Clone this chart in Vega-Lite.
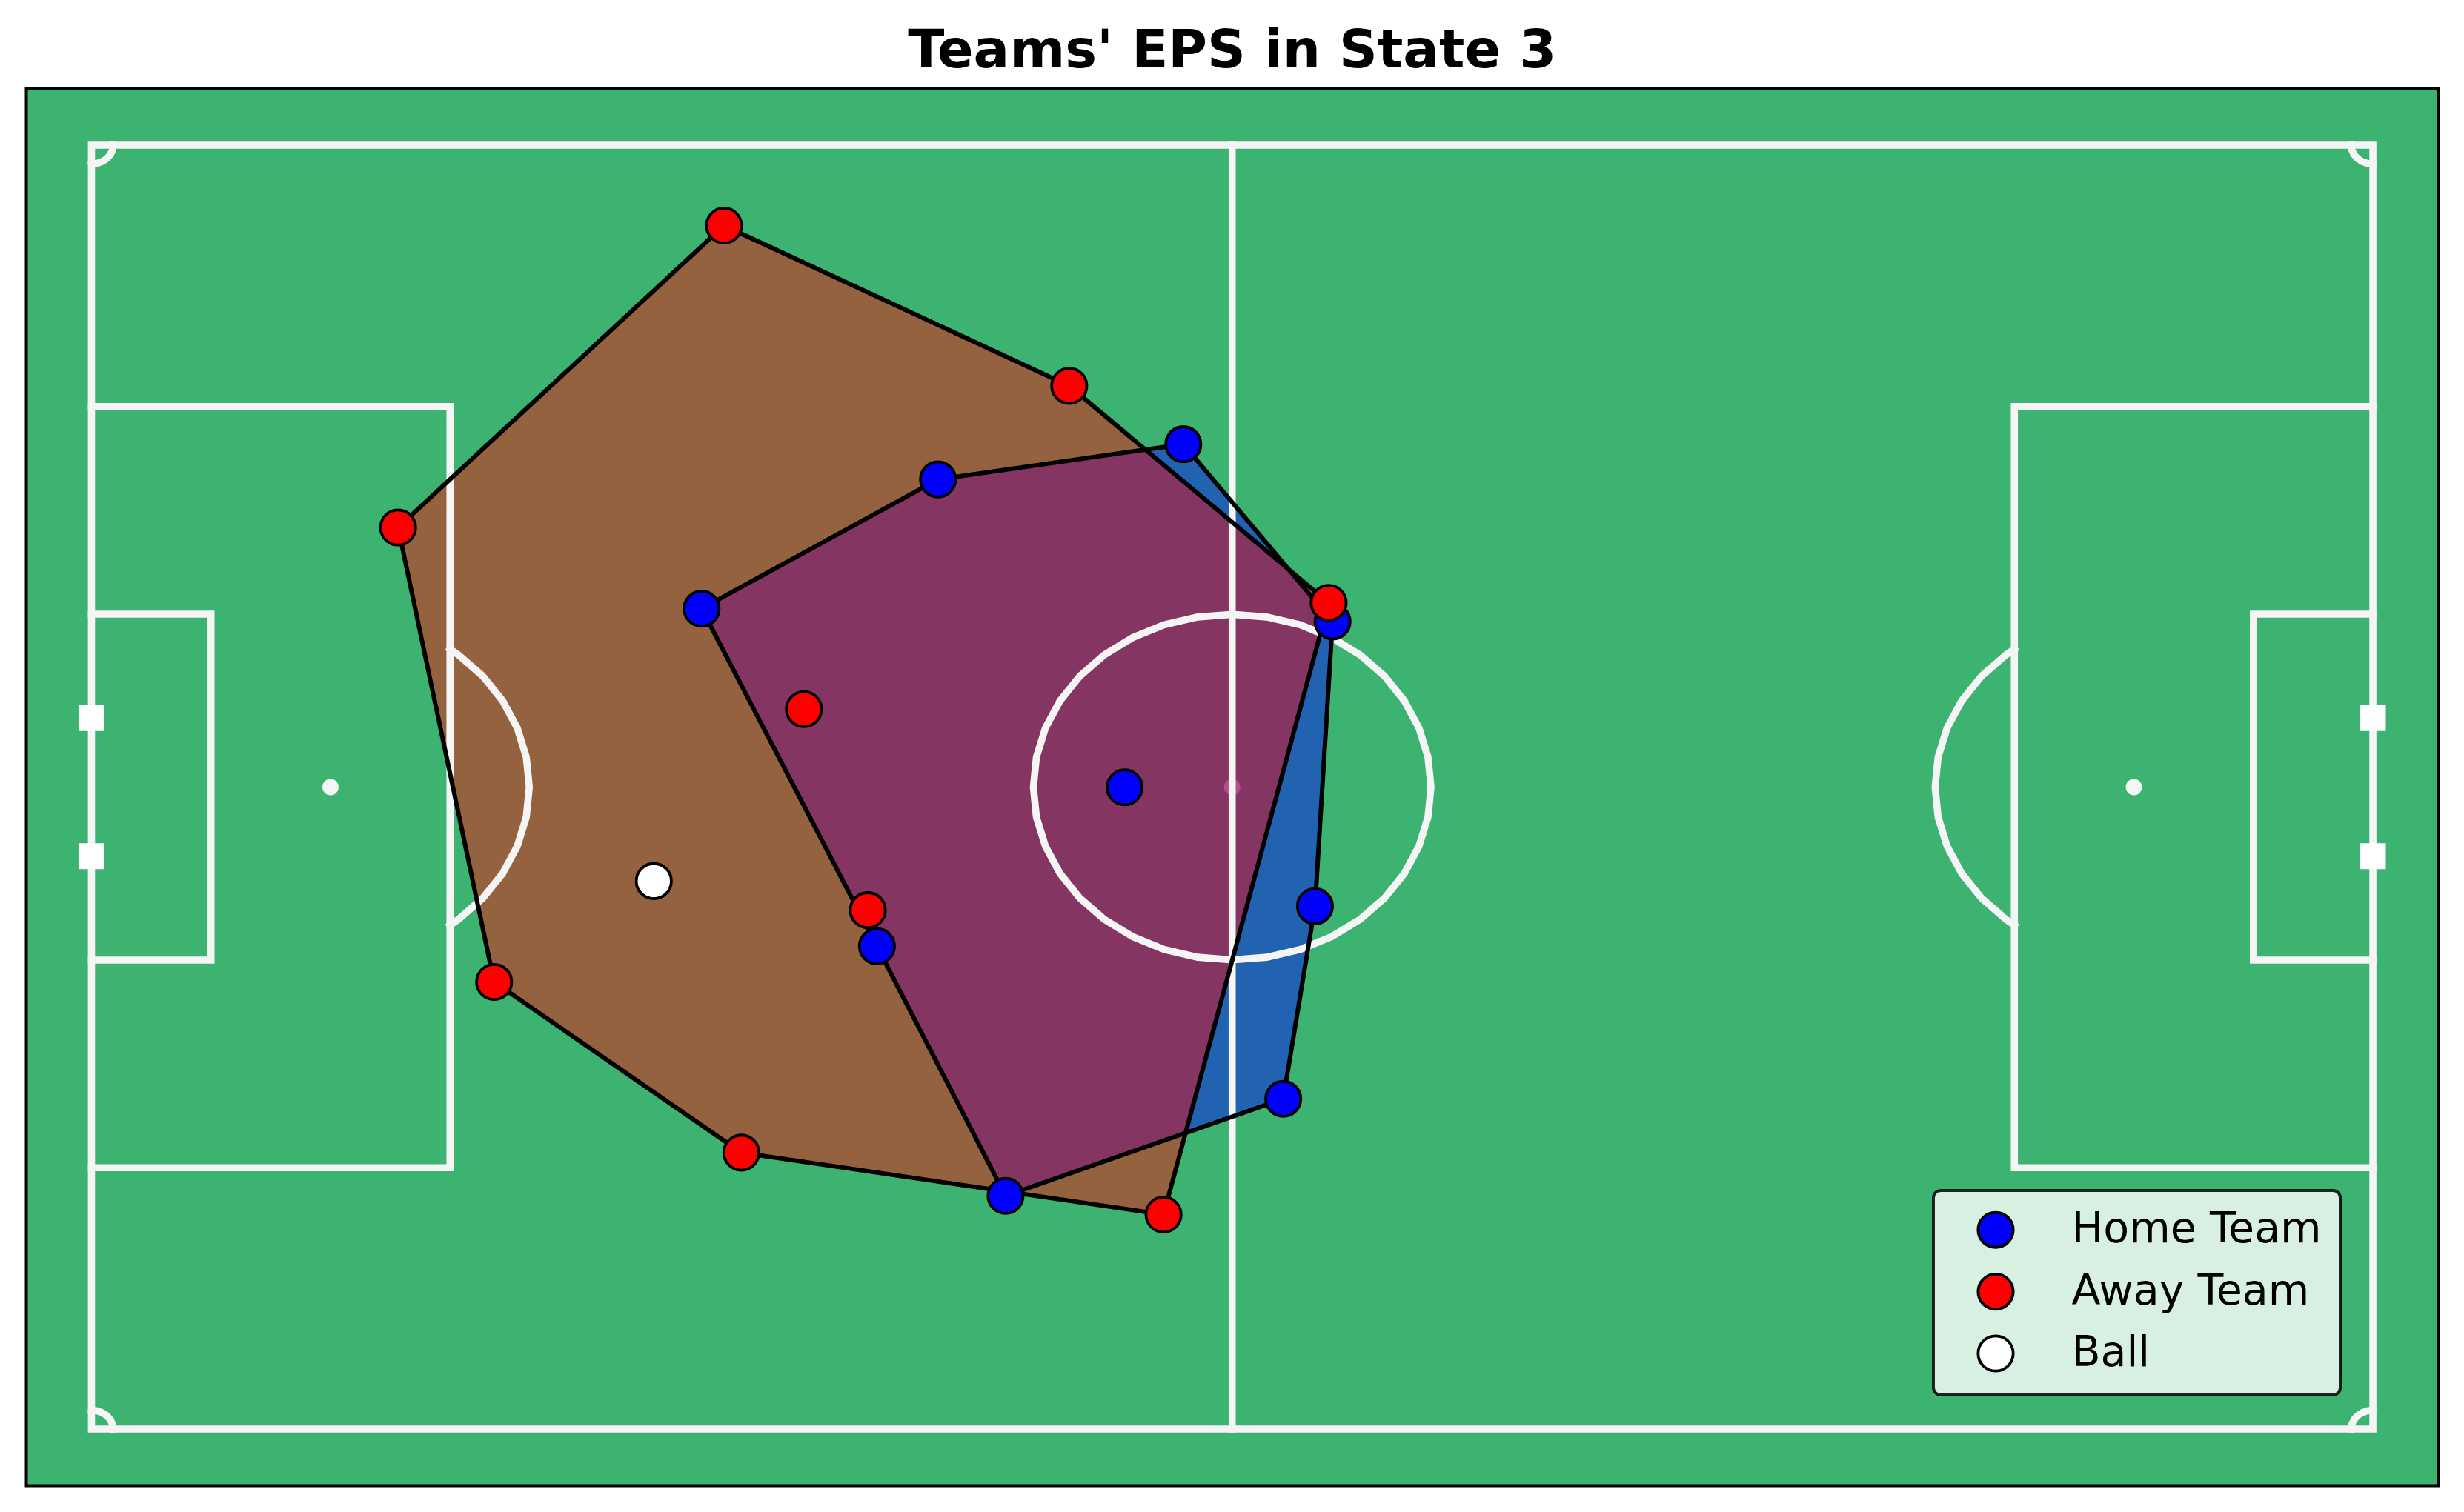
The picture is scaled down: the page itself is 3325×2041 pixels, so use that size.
{
  "$schema": "https://vega.github.io/schema/vega-lite/v6.json",
  "width": 3254.5,
  "height": 1886,
  "autosize": {"type": "none"},
  "padding": {"left": 35.5, "top": 119.5, "right": 35, "bottom": 35.5},
  "background": "white",
  "title": {
    "text": "Teams' EPS in State 3",
    "font": "DejaVu Sans",
    "fontSize": 72,
    "fontWeight": "bold",
    "color": "black",
    "anchor": "middle",
    "baseline": "alphabetic",
    "offset": 27.5,
    "dy": 71
  },
  "config": {"view": {"fill": "#3CB371", "stroke": "black", "strokeWidth": 4}},
  "datasets": {
    "players": [
      {"team": "Home Team", "x": 28.08, "y": 24.55},
      {"team": "Home Team", "x": 38.96, "y": 17.70},
      {"team": "Home Team", "x": 50.25, "y": 15.84},
      {"team": "Home Team", "x": 57.12, "y": 25.23},
      {"team": "Home Team", "x": 47.55, "y": 34.01},
      {"team": "Home Team", "x": 56.31, "y": 40.31},
      {"team": "Home Team", "x": 36.15, "y": 42.43},
      {"team": "Home Team", "x": 54.85, "y": 50.51},
      {"team": "Home Team", "x": 42.07, "y": 55.65},
      {"team": "Away Team", "x": 29.11, "y": 4.26},
      {"team": "Away Team", "x": 45.0, "y": 12.75},
      {"team": "Away Team", "x": 14.11, "y": 20.25},
      {"team": "Away Team", "x": 56.94, "y": 24.24},
      {"team": "Away Team", "x": 32.79, "y": 29.87},
      {"team": "Away Team", "x": 35.73, "y": 40.52},
      {"team": "Away Team", "x": 18.53, "y": 44.32},
      {"team": "Away Team", "x": 29.91, "y": 53.36},
      {"team": "Away Team", "x": 49.34, "y": 56.64},
      {"team": "Ball", "x": 25.88, "y": 38.98}
    ],
    "hulls": [
      {"team": "Home Team", "o": 0, "x": 50.25, "y": 15.84},
      {"team": "Home Team", "o": 1, "x": 57.12, "y": 25.23},
      {"team": "Home Team", "o": 2, "x": 56.31, "y": 40.31},
      {"team": "Home Team", "o": 3, "x": 54.85, "y": 50.51},
      {"team": "Home Team", "o": 4, "x": 42.07, "y": 55.65},
      {"team": "Home Team", "o": 5, "x": 36.15, "y": 42.43},
      {"team": "Home Team", "o": 6, "x": 28.08, "y": 24.55},
      {"team": "Home Team", "o": 7, "x": 38.96, "y": 17.70},
      {"team": "Home Team", "o": 8, "x": 50.25, "y": 15.84},
      {"team": "Away Team", "o": 0, "x": 29.11, "y": 4.26},
      {"team": "Away Team", "o": 1, "x": 45.0, "y": 12.75},
      {"team": "Away Team", "o": 2, "x": 56.94, "y": 24.24},
      {"team": "Away Team", "o": 3, "x": 49.34, "y": 56.64},
      {"team": "Away Team", "o": 4, "x": 29.91, "y": 53.36},
      {"team": "Away Team", "o": 5, "x": 18.53, "y": 44.32},
      {"team": "Away Team", "o": 6, "x": 14.11, "y": 20.25},
      {"team": "Away Team", "o": 7, "x": 29.11, "y": 4.26}
    ],
    "spots": [
      {"x": 11, "y": 34},
      {"x": 52.5, "y": 34},
      {"x": 94, "y": 34}
    ],
    "goals": [
      {"x": 0, "y": 30.34},
      {"x": 0, "y": 37.66},
      {"x": 105, "y": 30.34},
      {"x": 105, "y": 37.66}
    ],
    "lines": [
      {"id": "outline", "o": 0, "x": 0, "y": 0},
      {"id": "outline", "o": 1, "x": 105, "y": 0},
      {"id": "outline", "o": 2, "x": 105, "y": 68},
      {"id": "outline", "o": 3, "x": 0, "y": 68},
      {"id": "outline", "o": 4, "x": 0, "y": 0},
      {"id": "half", "o": 0, "x": 52.5, "y": 0},
      {"id": "half", "o": 1, "x": 52.5, "y": 68},
      {"id": "lbox", "o": 0, "x": 0, "y": 13.84},
      {"id": "lbox", "o": 1, "x": 16.5, "y": 13.84},
      {"id": "lbox", "o": 2, "x": 16.5, "y": 54.16},
      {"id": "lbox", "o": 3, "x": 0, "y": 54.16},
      {"id": "rbox", "o": 0, "x": 105, "y": 13.84},
      {"id": "rbox", "o": 1, "x": 88.5, "y": 13.84},
      {"id": "rbox", "o": 2, "x": 88.5, "y": 54.16},
      {"id": "rbox", "o": 3, "x": 105, "y": 54.16},
      {"id": "lsix", "o": 0, "x": 0, "y": 24.84},
      {"id": "lsix", "o": 1, "x": 5.5, "y": 24.84},
      {"id": "lsix", "o": 2, "x": 5.5, "y": 43.16},
      {"id": "lsix", "o": 3, "x": 0, "y": 43.16},
      {"id": "rsix", "o": 0, "x": 105, "y": 24.84},
      {"id": "rsix", "o": 1, "x": 99.5, "y": 24.84},
      {"id": "rsix", "o": 2, "x": 99.5, "y": 43.16},
      {"id": "rsix", "o": 3, "x": 105, "y": 43.16},
      {"id": "circle", "o": 0, "x": 52.5, "y": 24.85},
      {"id": "circle", "o": 1, "x": 54.089, "y": 24.989},
      {"id": "circle", "o": 2, "x": 55.629, "y": 25.402},
      {"id": "circle", "o": 3, "x": 57.075, "y": 26.076},
      {"id": "circle", "o": 4, "x": 58.382, "y": 26.991},
      {"id": "circle", "o": 5, "x": 59.509, "y": 28.118},
      {"id": "circle", "o": 6, "x": 60.424, "y": 29.425},
      {"id": "circle", "o": 7, "x": 61.098, "y": 30.871},
      {"id": "circle", "o": 8, "x": 61.511, "y": 32.411},
      {"id": "circle", "o": 9, "x": 61.65, "y": 34},
      {"id": "circle", "o": 10, "x": 61.511, "y": 35.589},
      {"id": "circle", "o": 11, "x": 61.098, "y": 37.129},
      {"id": "circle", "o": 12, "x": 60.424, "y": 38.575},
      {"id": "circle", "o": 13, "x": 59.509, "y": 39.882},
      {"id": "circle", "o": 14, "x": 58.382, "y": 41.009},
      {"id": "circle", "o": 15, "x": 57.075, "y": 41.924},
      {"id": "circle", "o": 16, "x": 55.629, "y": 42.598},
      {"id": "circle", "o": 17, "x": 54.089, "y": 43.011},
      {"id": "circle", "o": 18, "x": 52.5, "y": 43.15},
      {"id": "circle", "o": 19, "x": 50.911, "y": 43.011},
      {"id": "circle", "o": 20, "x": 49.371, "y": 42.598},
      {"id": "circle", "o": 21, "x": 47.925, "y": 41.924},
      {"id": "circle", "o": 22, "x": 46.618, "y": 41.009},
      {"id": "circle", "o": 23, "x": 45.491, "y": 39.882},
      {"id": "circle", "o": 24, "x": 44.576, "y": 38.575},
      {"id": "circle", "o": 25, "x": 43.902, "y": 37.129},
      {"id": "circle", "o": 26, "x": 43.489, "y": 35.589},
      {"id": "circle", "o": 27, "x": 43.35, "y": 34},
      {"id": "circle", "o": 28, "x": 43.489, "y": 32.411},
      {"id": "circle", "o": 29, "x": 43.902, "y": 30.871},
      {"id": "circle", "o": 30, "x": 44.576, "y": 29.425},
      {"id": "circle", "o": 31, "x": 45.491, "y": 28.118},
      {"id": "circle", "o": 32, "x": 46.618, "y": 26.991},
      {"id": "circle", "o": 33, "x": 47.925, "y": 26.076},
      {"id": "circle", "o": 34, "x": 49.371, "y": 25.402},
      {"id": "circle", "o": 35, "x": 50.911, "y": 24.989},
      {"id": "circle", "o": 36, "x": 52.5, "y": 24.85},
      {"id": "larc", "o": 0, "x": 16.5, "y": 26.687},
      {"id": "larc", "o": 1, "x": 16.882, "y": 26.991},
      {"id": "larc", "o": 2, "x": 18.009, "y": 28.118},
      {"id": "larc", "o": 3, "x": 18.924, "y": 29.425},
      {"id": "larc", "o": 4, "x": 19.598, "y": 30.871},
      {"id": "larc", "o": 5, "x": 20.011, "y": 32.411},
      {"id": "larc", "o": 6, "x": 20.15, "y": 34},
      {"id": "larc", "o": 7, "x": 20.011, "y": 35.589},
      {"id": "larc", "o": 8, "x": 19.598, "y": 37.129},
      {"id": "larc", "o": 9, "x": 18.924, "y": 38.575},
      {"id": "larc", "o": 10, "x": 18.009, "y": 39.882},
      {"id": "larc", "o": 11, "x": 16.882, "y": 41.009},
      {"id": "larc", "o": 12, "x": 16.5, "y": 41.313},
      {"id": "rarc", "o": 0, "x": 88.5, "y": 26.687},
      {"id": "rarc", "o": 1, "x": 88.118, "y": 26.991},
      {"id": "rarc", "o": 2, "x": 86.991, "y": 28.118},
      {"id": "rarc", "o": 3, "x": 86.076, "y": 29.425},
      {"id": "rarc", "o": 4, "x": 85.402, "y": 30.871},
      {"id": "rarc", "o": 5, "x": 84.989, "y": 32.411},
      {"id": "rarc", "o": 6, "x": 84.85, "y": 34},
      {"id": "rarc", "o": 7, "x": 84.989, "y": 35.589},
      {"id": "rarc", "o": 8, "x": 85.402, "y": 37.129},
      {"id": "rarc", "o": 9, "x": 86.076, "y": 38.575},
      {"id": "rarc", "o": 10, "x": 86.991, "y": 39.882},
      {"id": "rarc", "o": 11, "x": 88.118, "y": 41.009},
      {"id": "rarc", "o": 12, "x": 88.5, "y": 41.313},
      {"id": "c1", "o": 0, "x": 1, "y": 0},
      {"id": "c1", "o": 1, "x": 0.966, "y": 0.259},
      {"id": "c1", "o": 2, "x": 0.866, "y": 0.5},
      {"id": "c1", "o": 3, "x": 0.707, "y": 0.707},
      {"id": "c1", "o": 4, "x": 0.5, "y": 0.866},
      {"id": "c1", "o": 5, "x": 0.259, "y": 0.966},
      {"id": "c1", "o": 6, "x": 0, "y": 1},
      {"id": "c2", "o": 0, "x": 104, "y": 0},
      {"id": "c2", "o": 1, "x": 104.034, "y": 0.259},
      {"id": "c2", "o": 2, "x": 104.134, "y": 0.5},
      {"id": "c2", "o": 3, "x": 104.293, "y": 0.707},
      {"id": "c2", "o": 4, "x": 104.5, "y": 0.866},
      {"id": "c2", "o": 5, "x": 104.741, "y": 0.966},
      {"id": "c2", "o": 6, "x": 105, "y": 1},
      {"id": "c3", "o": 0, "x": 1, "y": 68},
      {"id": "c3", "o": 1, "x": 0.966, "y": 67.741},
      {"id": "c3", "o": 2, "x": 0.866, "y": 67.5},
      {"id": "c3", "o": 3, "x": 0.707, "y": 67.293},
      {"id": "c3", "o": 4, "x": 0.5, "y": 67.134},
      {"id": "c3", "o": 5, "x": 0.259, "y": 67.034},
      {"id": "c3", "o": 6, "x": 0, "y": 67},
      {"id": "c4", "o": 0, "x": 104, "y": 68},
      {"id": "c4", "o": 1, "x": 104.034, "y": 67.741},
      {"id": "c4", "o": 2, "x": 104.134, "y": 67.5},
      {"id": "c4", "o": 3, "x": 104.293, "y": 67.293},
      {"id": "c4", "o": 4, "x": 104.5, "y": 67.134},
      {"id": "c4", "o": 5, "x": 104.741, "y": 67.034},
      {"id": "c4", "o": 6, "x": 105, "y": 67}
    ]
  },
  "encoding": {
    "x": {"field": "x", "type": "quantitative", "scale": {"domain": [-3, 108], "nice": false, "zero": false}, "axis": null},
    "y": {"field": "y", "type": "quantitative", "scale": {"domain": [-3, 71], "nice": false, "zero": false, "reverse": true}, "axis": null}
  },
  "layer": [
    {
      "data": {"name": "spots"},
      "mark": {"type": "point", "shape": "circle", "filled": true, "size": 484, "color": "#F5F5F5", "opacity": 1}
    },
    {
      "data": {"name": "hulls"},
      "transform": [{"filter": "datum.team === 'Home Team'"}],
      "mark": {"type": "line", "fill": "#0000FF", "fillOpacity": 0.45, "strokeOpacity": 0},
      "encoding": {"order": {"field": "o", "type": "quantitative"}}
    },
    {
      "data": {"name": "hulls"},
      "transform": [{"filter": "datum.team === 'Away Team'"}],
      "mark": {"type": "line", "fill": "#FF0000", "fillOpacity": 0.45, "strokeOpacity": 0},
      "encoding": {"order": {"field": "o", "type": "quantitative"}}
    },
    {
      "data": {"name": "lines"},
      "mark": {"type": "line", "color": "#F5F5F5", "strokeWidth": 9.6, "strokeCap": "square", "strokeJoin": "miter"},
      "encoding": {
        "detail": {"field": "id", "type": "nominal"},
        "order": {"field": "o", "type": "quantitative"}
      }
    },
    {
      "data": {"name": "goals"},
      "mark": {"type": "point", "shape": "square", "filled": true, "size": 1225, "color": "#FFFFFF", "opacity": 1}
    },
    {
      "data": {"name": "hulls"},
      "mark": {"type": "line", "color": "black", "strokeWidth": 6, "strokeCap": "round"},
      "encoding": {
        "detail": {"field": "team", "type": "nominal"},
        "order": {"field": "o", "type": "quantitative"}
      }
    },
    {
      "data": {"name": "players"},
      "mark": {"type": "point", "shape": "circle", "filled": true, "size": 2240, "stroke": "black", "strokeWidth": 3.8, "opacity": 1},
      "encoding": {
        "fill": {
          "field": "team",
          "type": "nominal",
          "scale": {"domain": ["Home Team", "Away Team", "Ball"], "range": ["#0000FF", "#FF0000", "#FFFFFF"]},
          "legend": {
            "title": null,
            "orient": "none",
            "legendX": 2573.5,
            "legendY": 1487.5,
            "padding": 24.7,
            "symbolType": "circle",
            "symbolSize": 2240,
            "symbolStrokeColor": "black",
            "symbolStrokeWidth": 3.8,
            "symbolOpacity": 1,
            "symbolOffset": 30.8,
            "labelOffset": 74,
            "labelLimit": 0,
            "rowPadding": 20.4,
            "labelFont": "DejaVu Sans",
            "labelFontSize": 57,
            "labelColor": "black",
            "fillColor": "rgba(255,255,255,0.8)",
            "strokeColor": "rgba(0,0,0,0.85)",
            "cornerRadius": 10,
            "encode": {"legend": {"update": {"strokeWidth": {"value": 4}}}}
          }
        }
      }
    }
  ]
}
